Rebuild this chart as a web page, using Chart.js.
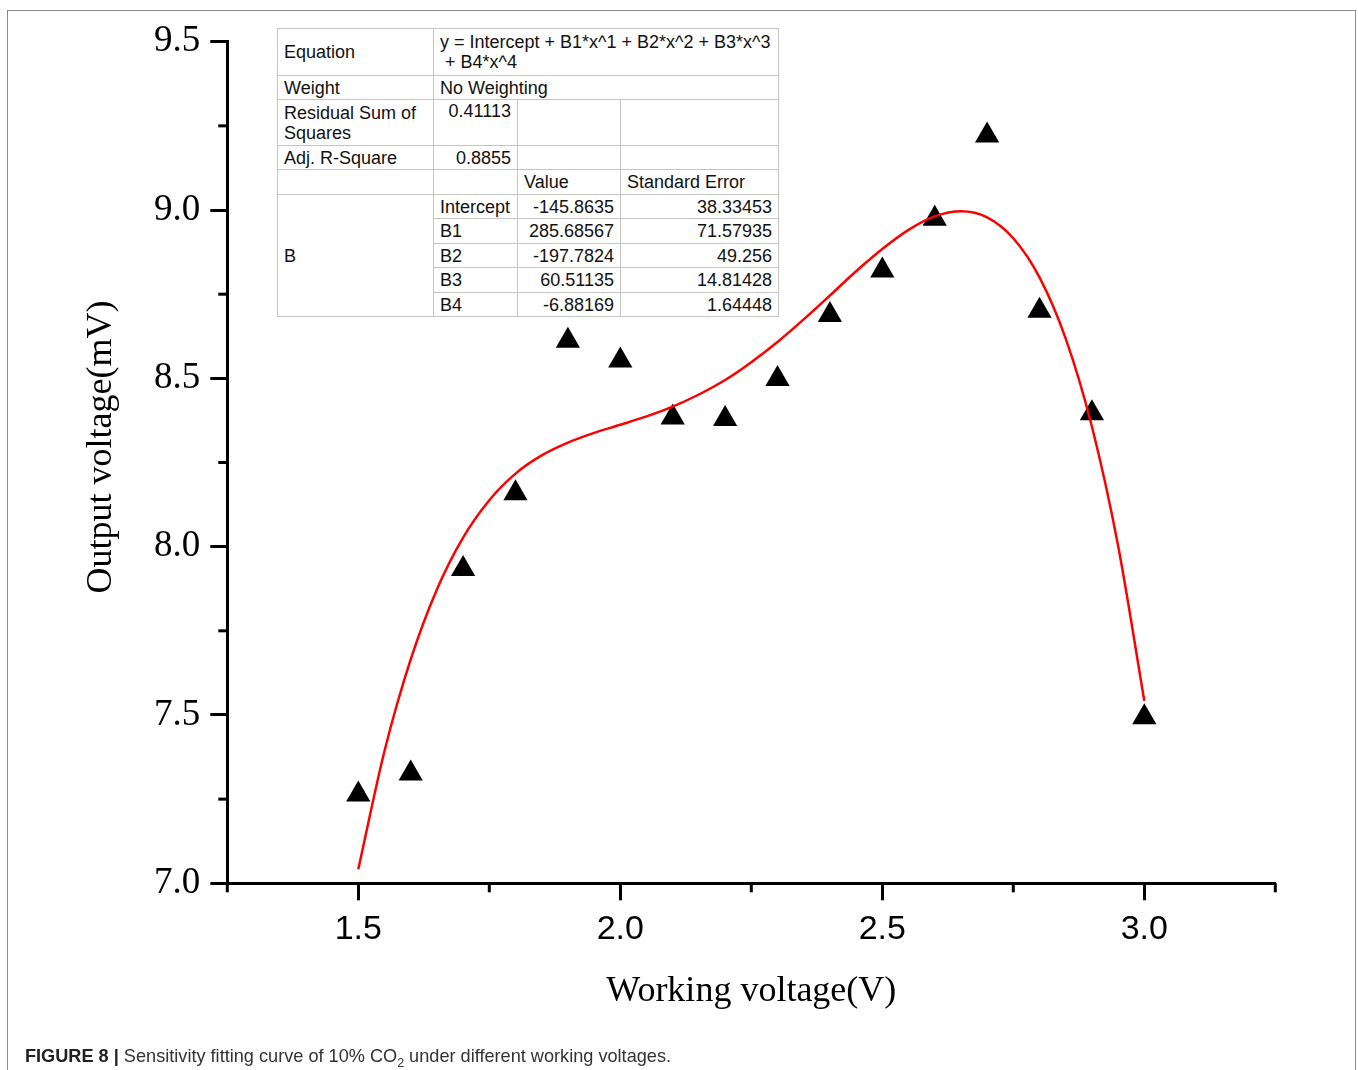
<!DOCTYPE html>
<html>
<head>
<meta charset="utf-8">
<script src="https://cdn.jsdelivr.net/npm/chart.js@4.4.0/dist/chart.umd.min.js"></script>
<style>
  html, body { margin: 0; padding: 0; background: #fff; }
  #wrap { position: relative; width: 1358px; height: 1070px; overflow: hidden; }
  #frame { position: absolute; left: 7px; top: 10px; width: 1347px; height: 1100px; border: 1px solid #8c8c8c; }
  #myChart { position: absolute; left: 0; top: 0; }
  #fitTable { position: absolute; left: 277px; top: 28px; width: 501px; border-collapse: collapse;
              font-family: "Liberation Sans", Arial, sans-serif; font-size: 18px; color: #111;
              border: 1.5px solid #555; background: #fff; table-layout: fixed; }
  #fitTable td { border: 1px solid #c4c4c4; padding: 0 6px; line-height: 20px; vertical-align: middle; white-space: nowrap; }
  #fitTable td.num { text-align: right; }
  #fitTable td.top { vertical-align: top; padding-top: 1px; }
  #caption { position: absolute; left: 25px; top: 1045px; font-family: "Liberation Sans Narrow", "Liberation Sans", Arial, sans-serif;
             font-size: 19px; color: #333; white-space: nowrap; transform: scaleX(0.955); transform-origin: 0 0; }
  #caption b { color: #222; }
</style>
</head>
<body>
<div id="wrap">
  <div id="frame"></div>
  <canvas id="myChart" width="1358" height="1070"></canvas>
  <table id="fitTable"></table>
  <div id="caption"><b>FIGURE 8 |</b> Sensitivity fitting curve of 10% CO<sub style="font-size:13px">2</sub> under different working voltages.</div>
</div>
<script>
// measured points (triangles)
const workingVoltage = [1.5, 1.6, 1.7, 1.8, 1.9, 2.0, 2.1, 2.2, 2.3, 2.4, 2.5, 2.6, 2.7, 2.8, 2.9, 3.0];
const outputVoltage = [7.264, 7.326, 7.934, 8.159, 8.612, 8.553, 8.384, 8.379, 8.498, 8.688, 8.820, 8.974, 9.221, 8.701, 8.396, 7.493];

// red fitted curve
const fitX = [1.5, 1.55, 1.6, 1.65, 1.7, 1.75, 1.8, 1.85, 1.9, 1.95, 2.0, 2.05, 2.1, 2.15, 2.2, 2.25,
              2.3, 2.35, 2.4, 2.45, 2.5, 2.55, 2.6, 2.65, 2.7, 2.75, 2.8, 2.85, 2.9, 2.95, 3.0];
const fitY = [7.042, 7.393, 7.665, 7.873, 8.027, 8.138, 8.217, 8.271, 8.309, 8.338, 8.362, 8.387, 8.416, 8.452, 8.495, 8.548,
              8.608, 8.675, 8.746, 8.818, 8.884, 8.941, 8.981, 8.996, 8.978, 8.916, 8.800, 8.618, 8.357, 8.003, 7.542];

// fit report table
const fitEquation = ['y = Intercept + B1*x^1 + B2*x^2 + B3*x^3', '\u00a0+ B4*x^4'];
const fitWeight = 'No Weighting';
const residualSS = '0.41113';
const adjRSquare = '0.8855';
const paramNames = ['Intercept', 'B1', 'B2', 'B3', 'B4'];
const paramValues = ['-145.8635', '285.68567', '-197.7824', '60.51135', '-6.88169'];
const paramErrors = ['38.33453', '71.57935', '49.256', '14.81428', '1.64448'];

const xTitle = 'Working voltage(V)';
const yTitle = 'Output voltage(mV)';

// build the table
function buildTable() {
    const t = document.getElementById('fitTable');
    let html = '<colgroup><col style="width:156px"><col style="width:84px"><col style="width:103px"><col style="width:158px"></colgroup>';
    html += `<tr style="height:47px"><td>Equation</td><td colspan="3">${fitEquation.join('<br>')}</td></tr>`;
    html += `<tr style="height:24px"><td>Weight</td><td colspan="3">${fitWeight}</td></tr>`;
    html += `<tr style="height:46px"><td>Residual Sum of<br>Squares</td><td class="num top">${residualSS}</td><td></td><td></td></tr>`;
    html += `<tr style="height:24px"><td>Adj. R-Square</td><td class="num">${adjRSquare}</td><td></td><td></td></tr>`;
    html += '<tr style="height:25px"><td></td><td></td><td>Value</td><td>Standard Error</td></tr>';
    paramNames.forEach((name, i) => {
        html += `<tr style="height:${i % 2 ? 25 : 24}px">`;
        if (i === 0) html += `<td rowspan="${paramNames.length}">B</td>`;
        html += `<td>${name}</td><td class="num">${paramValues[i]}</td><td class="num">${paramErrors[i]}</td></tr>`;
    });
    t.innerHTML = html;
}
buildTable();

const isMajor = v => Math.abs(v * 2 - Math.round(v * 2)) < 1e-6;

// minor ticks (shorter) and axis titles
const axisExtras = {
    id: 'axisExtras',
    afterDraw(chart) {
        const { ctx } = chart;
        const xs = chart.scales.x, ys = chart.scales.y;
        ctx.save();
        ctx.strokeStyle = '#000';
        ctx.lineWidth = 3;
        xs.ticks.forEach(t => {
            if (isMajor(t.value)) return;
            const px = xs.getPixelForValue(t.value);
            ctx.beginPath(); ctx.moveTo(px, xs.top); ctx.lineTo(px, xs.top + 9); ctx.stroke();
        });
        ys.ticks.forEach(t => {
            if (isMajor(t.value)) return;
            const py = ys.getPixelForValue(t.value);
            ctx.beginPath(); ctx.moveTo(ys.right, py); ctx.lineTo(ys.right - 9, py); ctx.stroke();
        });
        ctx.fillStyle = '#000';
        ctx.font = '36px "Liberation Serif", "Times New Roman", serif';
        ctx.textAlign = 'center';
        ctx.textBaseline = 'alphabetic';
        const area = chart.chartArea;
        ctx.fillText(xTitle, (area.left + area.right) / 2, 1001);
        ctx.translate(111, 447);
        ctx.rotate(-Math.PI / 2);
        ctx.fillText(yTitle, 0, 0);
        ctx.restore();
    }
};

const ctx = document.getElementById('myChart').getContext('2d');
const chart = new Chart(ctx, {
    type: 'scatter',
    data: {
        datasets: [
            {
                label: 'Fit',
                type: 'line',
                data: fitX.map((x, i) => ({ x, y: fitY[i] })),
                borderColor: '#ff0000',
                borderWidth: 2.5,
                pointRadius: 0,
                fill: false,
                cubicInterpolationMode: 'monotone',
                order: 0
            },
            {
                label: 'Output voltage',
                data: workingVoltage.map((x, i) => ({ x, y: outputVoltage[i] })),
                pointStyle: 'triangle',
                pointRadius: 14,
                backgroundColor: '#000',
                borderWidth: 0,
                order: 1
            }
        ]
    },
    options: {
        responsive: false,
        animation: false,
        layout: { padding: { left: 0, top: 41.7, right: 82.7, bottom: 46.7 } },
        plugins: { legend: { display: false }, tooltip: { enabled: false } },
        scales: {
            x: {
                type: 'linear',
                min: 1.25,
                max: 3.25,
                afterFit: s => { s.height = 140; },
                border: { color: '#000', width: 3 },
                grid: {
                    drawOnChartArea: false,
                    tickLength: 17,
                    tickWidth: 3,
                    tickColor: c => isMajor(c.tick.value) ? '#000' : 'rgba(0,0,0,0)'
                },
                ticks: {
                    stepSize: 0.25,
                    padding: 9,
                    color: '#000',
                    font: { family: '"Liberation Sans", Arial, sans-serif', size: 34 },
                    callback: v => (isMajor(v) && v > 1.3 && v < 3.2) ? v.toFixed(1) : ''
                }
            },
            y: {
                min: 7.0,
                max: 9.5,
                afterFit: s => { s.width = 227.3; },
                border: { color: '#000', width: 3 },
                grid: {
                    drawOnChartArea: false,
                    tickLength: 17,
                    tickWidth: 3,
                    tickColor: c => isMajor(c.tick.value) ? '#000' : 'rgba(0,0,0,0)'
                },
                ticks: {
                    stepSize: 0.25,
                    padding: 10,
                    color: '#000',
                    font: { family: '"Liberation Serif", "Times New Roman", serif', size: 37 },
                    callback: v => isMajor(v) ? v.toFixed(1) : ''
                }
            }
        }
    },
    plugins: [axisExtras]
});
</script>
</body>
</html>
